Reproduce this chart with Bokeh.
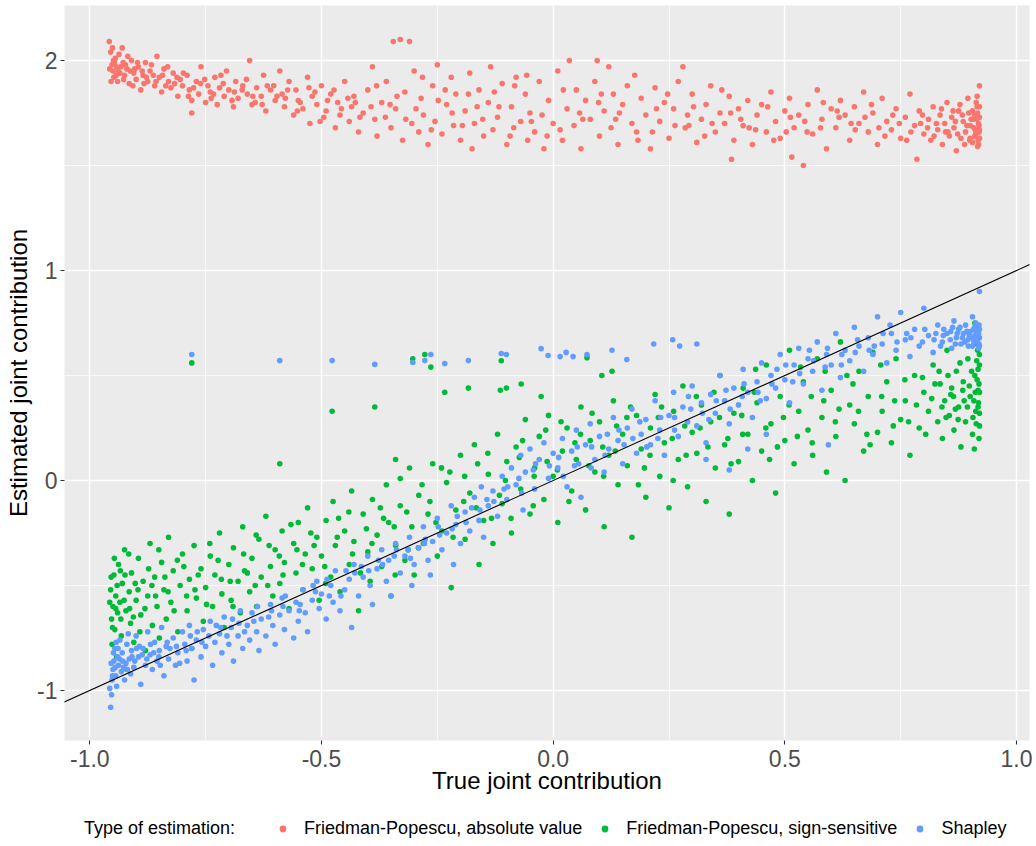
from bokeh.plotting import figure
from bokeh.layouts import column
from bokeh.models import Range1d, FixedTicker, Legend, LegendItem, Slope
from bokeh.embed import file_html
from bokeh.resources import INLINE

# ---------------- data ----------------
legend_title = "Type of estimation:"
series_names = ["Friedman-Popescu, absolute value", "Friedman-Popescu, sign-sensitive", "Shapley"]
series_colors = ["#F8766D", "#00BA38", "#619CFF"]

x_ticks = [-1, -0.5, 0, 0.5, 1]
x_tick_labels = ["-1.0", "-0.5", "0.0", "0.5", "1.0"]
x_minor = [-0.75, -0.25, 0.25, 0.75]
y_ticks = [-1, 0, 1, 2]
y_tick_labels = ["-1", "0", "1", "2"]
y_minor = [-0.5, 0.5, 1.5]

fp_abs_points = [
    (-0.958, 2.09), (-0.955, 2.04), (-0.952, 1.98), (-0.95, 1.95), (-0.948, 1.92), (-0.945, 2.01), (-0.942, 1.97),
    (-0.94, 1.90), (-0.935, 1.94), (-0.93, 2.06), (-0.928, 1.99), (-0.925, 1.93), (-0.92, 1.96), (-0.915, 1.89),
    (-0.91, 2.00), (-0.905, 1.94), (-0.90, 1.91), (-0.895, 1.97), (-0.89, 1.86), (-0.885, 1.93), (-0.88, 1.99),
    (-0.875, 1.90), (-0.87, 1.95), (-0.86, 1.88), (-0.855, 2.02), (-0.85, 1.92), (-0.845, 1.85), (-0.84, 1.96),
    (-0.83, 1.90), (-0.825, 1.87), (-0.82, 1.94), (-0.81, 1.83), (-0.805, 1.91), (-0.80, 1.88), (-0.78, 1.75),
    (-0.79, 1.93), (-0.785, 1.86), (-0.78, 1.81), (-0.77, 1.90), (-0.765, 1.84), (-0.76, 1.97), (-0.75, 1.80),
    (-0.745, 1.88), (-0.74, 1.85), (-0.73, 1.92), (-0.725, 1.79), (-0.72, 1.87), (-0.71, 1.83), (-0.705, 1.95),
    (-0.70, 1.86), (-0.69, 1.78), (-0.685, 1.90), (-0.68, 1.82), (-0.67, 1.88), (-0.66, 1.84), (-0.655, 2.00),
    (-0.65, 1.79), (-0.64, 1.87), (-0.63, 1.83), (-0.625, 1.93), (-0.62, 1.76), (-0.61, 1.86), (-0.60, 1.81),
    (-0.59, 1.95), (-0.585, 1.84), (-0.58, 1.78), (-0.57, 1.90), (-0.56, 1.74), (-0.555, 1.86), (-0.55, 1.81),
    (-0.54, 1.77), (-0.53, 1.92), (-0.525, 1.70), (-0.52, 1.83), (-0.51, 1.79), (-0.50, 1.88), (-0.495, 1.73),
    (-0.49, 1.76), (-0.48, 1.84), (-0.47, 1.68), (-0.465, 1.80), (-0.46, 1.74), (-0.45, 1.90), (-0.44, 1.71),
    (-0.435, 1.78), (-0.43, 1.83), (-0.42, 1.66), (-0.41, 1.75), (-0.40, 1.86),
    (-0.39, 1.97), (-0.385, 1.72), (-0.38, 1.64), (-0.37, 1.80), (-0.36, 1.90), (-0.35, 1.68), (-0.345, 2.09),
    (-0.34, 1.77), (-0.33, 2.10), (-0.325, 1.62), (-0.32, 1.85), (-0.31, 2.09), (-0.305, 1.70), (-0.30, 1.95),
    (-0.29, 1.66), (-0.285, 1.82), (-0.28, 1.74), (-0.27, 1.60), (-0.26, 1.88), (-0.255, 1.71), (-0.25, 1.98),
    (-0.24, 1.65), (-0.23, 1.79), (-0.22, 1.92), (-0.215, 1.69), (-0.21, 1.84), (-0.20, 1.62),
    (-0.19, 1.76), (-0.18, 1.94), (-0.175, 1.58), (-0.17, 1.70), (-0.16, 1.86), (-0.15, 1.64), (-0.14, 1.80),
    (-0.135, 1.97), (-0.13, 1.67), (-0.12, 1.73), (-0.11, 1.89), (-0.10, 1.60), (-0.09, 1.78), (-0.085, 1.68),
    (-0.08, 1.92), (-0.07, 1.71), (-0.06, 1.84), (-0.055, 1.62), (-0.05, 1.75), (-0.04, 1.66), (-0.03, 1.90),
    (-0.02, 1.58), (-0.01, 1.81), (0.00, 1.70),
    (0.01, 1.95), (0.02, 1.62), (0.03, 1.77), (0.035, 2.00), (0.045, 1.69), (0.05, 1.86), (0.06, 1.58),
    (0.07, 1.81), (0.08, 1.72), (0.09, 1.90), (0.095, 2.00), (0.10, 1.64), (0.11, 1.76), (0.12, 1.97),
    (0.125, 1.68), (0.13, 1.84), (0.14, 1.60), (0.15, 1.79), (0.16, 1.88), (0.17, 1.70), (0.18, 1.66),
    (0.19, 1.82), (0.20, 1.74),
    (0.21, 1.58), (0.22, 1.87), (0.23, 1.71), (0.24, 1.80), (0.25, 1.63), (0.26, 1.77), (0.27, 1.90),
    (0.28, 1.97), (0.285, 1.68), (0.29, 1.74), (0.30, 1.84), (0.31, 1.61), (0.32, 1.72), (0.33, 1.79),
    (0.34, 1.88), (0.35, 1.66), (0.36, 1.75), (0.37, 1.70), (0.38, 1.83), (0.385, 1.53), (0.39, 1.62),
    (0.40, 1.77),
    (0.41, 1.69), (0.42, 1.81), (0.43, 1.60), (0.44, 1.74), (0.45, 1.79), (0.46, 1.66), (0.47, 1.85),
    (0.48, 1.71), (0.49, 1.63), (0.50, 1.76), (0.51, 1.82), (0.515, 1.54), (0.52, 1.68), (0.53, 1.74),
    (0.54, 1.50), (0.55, 1.79), (0.56, 1.65), (0.57, 1.86), (0.58, 1.72), (0.59, 1.58), (0.60, 1.77),
    (0.61, 1.68), (0.62, 1.81), (0.63, 1.74), (0.64, 1.62), (0.65, 1.78), (0.66, 1.70), (0.67, 1.85),
    (0.68, 1.66), (0.69, 1.75), (0.70, 1.60), (0.71, 1.82), (0.72, 1.71), (0.73, 1.67), (0.74, 1.77),
    (0.75, 1.63), (0.76, 1.73), (0.77, 1.84), (0.78, 1.69), (0.785, 1.53), (0.79, 1.76), (0.80, 1.65),
    (0.81, 1.72), (0.815, 1.62), (0.82, 1.78), (0.83, 1.67), (0.835, 1.74), (0.84, 1.60), (0.845, 1.70),
    (0.85, 1.80), (0.855, 1.64), (0.86, 1.73), (0.865, 1.68), (0.87, 1.57), (0.875, 1.76), (0.88, 1.63),
    (0.885, 1.71), (0.89, 1.66), (0.895, 1.82), (0.90, 1.69), (0.905, 1.61), (0.91, 1.74), (0.912, 1.65),
    (0.915, 1.78), (0.917, 1.62), (0.918, 1.70), (0.92, 1.88), (0.92, 1.67), (0.92, 1.73), (0.918, 1.60),
    (0.915, 1.83), (0.91, 1.64), (0.905, 1.76), (0.90, 1.63),
    (-0.957, 1.96), (-0.954, 1.90), (-0.951, 2.06), (-0.947, 1.99), (-0.943, 1.93), (-0.937, 2.03),
    (-0.933, 1.97), (-0.927, 1.91), (-0.918, 2.02), (-0.913, 1.95), (-0.907, 1.88), (-0.897, 1.99),
    (-0.887, 1.95), (-0.878, 1.92), (-0.867, 1.98), (-0.857, 1.90), (-0.843, 1.93), (-0.832, 1.97),
    (-0.817, 1.89), (-0.798, 1.94), (-0.776, 1.87), (-0.752, 1.91), (-0.733, 1.84), (-0.712, 1.89),
    (-0.688, 1.85), (-0.662, 1.91), (-0.643, 1.80), (-0.617, 1.88), (-0.596, 1.83), (-0.573, 1.86),
    (-0.546, 1.80), (-0.514, 1.85), (-0.487, 1.81), (-0.457, 1.77), (-0.427, 1.80), (-0.393, 1.78),
    (-0.362, 1.73), (-0.337, 1.83), (-0.296, 1.77), (-0.263, 1.67), (-0.233, 1.86), (-0.196, 1.69),
    (-0.164, 1.78), (-0.127, 1.85), (-0.093, 1.64), (-0.057, 1.93), (-0.024, 1.74), (0.015, 1.67),
    (0.057, 1.75), (0.098, 1.80), (0.135, 1.72), (0.176, 1.93), (0.214, 1.66), (0.247, 1.84),
    (0.293, 1.69), (0.327, 1.64), (0.364, 1.86), (0.405, 1.72), (0.437, 1.67), (0.476, 1.62),
    (0.512, 1.73), (0.548, 1.66), (0.583, 1.80), (0.617, 1.73), (0.652, 1.67), (0.687, 1.79),
    (0.716, 1.64), (0.747, 1.70), (0.772, 1.66), (0.797, 1.74), (0.808, 1.68), (0.822, 1.64),
    (0.838, 1.77), (0.852, 1.66), (0.868, 1.71), (0.878, 1.79), (0.888, 1.60), (0.897, 1.75),
    (0.908, 1.68), (0.914, 1.72), (0.919, 1.66), (0.916, 1.59), (0.913, 1.80), (0.902, 1.72),
    (-0.949, 2.00), (-0.939, 1.95), (-0.923, 1.98), (-0.903, 1.96), (-0.883, 1.89), (-0.863, 1.93),
    (-0.836, 1.88), (-0.812, 1.92), (-0.787, 1.83), (-0.761, 1.89), (-0.738, 1.82), (-0.717, 1.93),
    (-0.693, 1.81), (-0.671, 1.86), (-0.648, 1.83), (-0.628, 1.79), (-0.603, 1.88), (-0.578, 1.82),
    (-0.552, 1.76), (-0.527, 1.87), (-0.503, 1.71), (-0.473, 1.86), (-0.443, 1.82), (-0.417, 1.73),
    (-0.381, 1.88), (-0.352, 1.79), (-0.318, 1.72), (-0.282, 1.92), (-0.248, 1.81), (-0.218, 1.75),
    (-0.183, 1.84), (-0.152, 1.72), (-0.117, 1.78), (-0.083, 1.88), (-0.047, 1.71), (-0.013, 1.64),
    (0.022, 1.86), (0.064, 1.72), (0.104, 1.84), (0.143, 1.75), (0.183, 1.62), (0.223, 1.77),
    (0.263, 1.69), (0.303, 1.78), (0.343, 1.70), (0.383, 1.75), (0.423, 1.68), (0.463, 1.78),
    (0.503, 1.66), (0.543, 1.71), (0.577, 1.68), (0.613, 1.76), (0.643, 1.70), (0.673, 1.73),
    (0.703, 1.68), (0.733, 1.74), (0.763, 1.62), (0.793, 1.70), (0.827, 1.70), (0.847, 1.66),
    (0.863, 1.76), (0.873, 1.65), (0.883, 1.74), (0.893, 1.69), (0.899, 1.62), (0.906, 1.72),
    (0.911, 1.67), (0.916, 1.75), (0.919, 1.69), (0.92, 1.63), (0.92, 1.78), (0.917, 1.66),
]

fp_sign_points = [
    (-0.955, -0.52), (-0.953, -0.66), (-0.952, -0.78), (-0.95, -0.60), (-0.948, -0.45), (-0.946, -0.71),
    (-0.944, -0.55), (-0.942, -0.84), (-0.94, -0.63), (-0.938, -0.40), (-0.935, -0.58), (-0.932, -0.74),
    (-0.93, -0.49), (-0.925, -0.33), (-0.922, -0.62), (-0.92, -0.90), (-0.915, -0.53), (-0.912, -0.68),
    (-0.91, -0.44), (-0.905, -0.77), (-0.90, -0.57), (-0.895, -0.37), (-0.89, -0.64), (-0.885, -0.48),
    (-0.88, -0.81), (-0.875, -0.55), (-0.87, -0.30), (-0.865, -0.69), (-0.86, -0.46), (-0.855, -0.60),
    (-0.85, -0.75), (-0.845, -0.39), (-0.84, -0.52), (-0.835, -0.66), (-0.83, -0.27), (-0.825, -0.58),
    (-0.82, -0.43), (-0.81, -0.72), (-0.805, -0.50), (-0.80, -0.35), (-0.79, -0.62), (-0.785, -0.47),
    (-0.78, -0.80), (-0.775, -0.31), (-0.77, -0.56), (-0.76, -0.42), (-0.755, -0.67), (-0.75, -0.51),
    (-0.74, -0.36), (-0.735, -0.60), (-0.73, -0.45), (-0.72, -0.25), (-0.715, -0.54), (-0.71, -0.70),
    (-0.70, -0.40), (-0.695, -0.57), (-0.69, -0.32), (-0.68, -0.48), (-0.675, -0.63), (-0.67, -0.22),
    (-0.66, -0.44), (-0.655, -0.53), (-0.65, -0.37), (-0.64, -0.60), (-0.635, -0.28), (-0.63, -0.46),
    (-0.62, -0.17), (-0.61, -0.41), (-0.605, -0.55), (-0.60, -0.33), (-0.59, -0.49), (-0.585, -0.24),
    (-0.58, -0.39), (-0.57, -0.61), (-0.56, -0.30), (-0.555, -0.44), (-0.55, -0.20), (-0.54, -0.52),
    (-0.535, -0.35), (-0.53, -0.13), (-0.52, -0.42), (-0.51, -0.27), (-0.505, -0.57), (-0.50, -0.36),
    (-0.49, -0.19), (-0.48, -0.46), (-0.475, -0.10), (-0.47, -0.31), (-0.46, -0.53), (-0.45, -0.24),
    (-0.44, -0.40), (-0.435, -0.05), (-0.43, -0.29), (-0.42, -0.62), (-0.41, -0.16), (-0.40, -0.34),
    (-0.395, -0.48), (-0.39, -0.09), (-0.38, -0.26), (-0.37, -0.41), (-0.36, -0.02), (-0.355, -0.20),
    (-0.35, -0.55), (-0.34, -0.31), (-0.33, -0.12), (-0.32, -0.38), (-0.31, 0.06), (-0.305, -0.22),
    (-0.30, -0.45), (-0.29, -0.07), (-0.28, -0.30), (-0.27, -0.16), (-0.26, 0.08), (-0.25, -0.36),
    (-0.24, -0.24), (-0.23, -0.01), (-0.22, -0.51), (-0.21, -0.14), (-0.20, 0.12), (-0.19, -0.28),
    (-0.18, -0.06), (-0.17, 0.17), (-0.16, -0.40), (-0.15, -0.19), (-0.14, 0.03), (-0.13, -0.30),
    (-0.12, 0.22), (-0.11, -0.11), (-0.10, 0.09), (-0.09, -0.25), (-0.08, 0.16), (-0.07, -0.04),
    (-0.06, 0.29), (-0.05, -0.16), (-0.04, 0.06), (-0.03, 0.21), (-0.02, -0.09), (-0.01, 0.31),
    (0.00, 0.02), (0.01, -0.20), (0.02, 0.14), (0.03, 0.25), (0.04, -0.05), (0.05, 0.10), (0.06, 0.35),
    (0.07, -0.14), (0.08, 0.19), (0.09, 0.04), (0.10, 0.28), (0.11, -0.22), (0.12, 0.12), (0.13, 0.38),
    (0.14, -0.02), (0.15, 0.22), (0.16, 0.07), (0.17, -0.27), (0.18, 0.31), (0.19, 0.15), (0.20, -0.08),
    (0.21, 0.25), (0.22, 0.41), (0.23, 0.02), (0.24, 0.18), (0.25, -0.13), (0.26, 0.33), (0.27, 0.10),
    (0.28, 0.45), (0.29, -0.03), (0.30, 0.23), (0.31, 0.13), (0.32, 0.36), (0.33, -0.10), (0.34, 0.28),
    (0.35, 0.06), (0.36, 0.50), (0.37, 0.17), (0.38, -0.16), (0.39, 0.32), (0.40, 0.09), (0.41, 0.44),
    (0.42, 0.22), (0.43, 0.00), (0.44, 0.37), (0.45, 0.14), (0.46, 0.55), (0.47, 0.27), (0.48, -0.06),
    (0.49, 0.40), (0.50, 0.19), (0.51, 0.62), (0.52, 0.08), (0.53, 0.33), (0.54, 0.47), (0.55, 0.24),
    (0.56, 0.12), (0.57, 0.58), (0.58, 0.30), (0.59, 0.04), (0.60, 0.43), (0.61, 0.21), (0.62, 0.66),
    (0.63, 0.00), (0.64, 0.36), (0.65, 0.27), (0.66, 0.52), (0.67, 0.14), (0.68, 0.40), (0.69, 0.61),
    (0.70, 0.23), (0.71, 0.33), (0.72, 0.47), (0.73, 0.18), (0.74, 0.58), (0.75, 0.29), (0.76, 0.38),
    (0.77, 0.12), (0.78, 0.50), (0.79, 0.25), (0.80, 0.42), (0.81, 0.33), (0.82, 0.55), (0.83, 0.28),
    (0.835, 0.46), (0.84, 0.20), (0.845, 0.38), (0.85, 0.62), (0.855, 0.31), (0.86, 0.44), (0.865, 0.24),
    (0.87, 0.52), (0.875, 0.35), (0.88, 0.16), (0.885, 0.47), (0.89, 0.28), (0.895, 0.58), (0.90, 0.40),
    (0.905, 0.22), (0.91, 0.50), (0.912, 0.33), (0.915, 0.65), (0.917, 0.43), (0.92, 0.26), (0.92, 0.55),
    (0.918, 0.37), (0.915, 0.48), (0.91, 0.75), (0.92, 0.60),
    (-0.957, -0.58), (-0.951, -0.70), (-0.947, -0.37), (-0.941, -0.50), (-0.933, -0.66), (-0.924, -0.45),
    (-0.914, -0.61), (-0.902, -0.49), (-0.892, -0.72), (-0.873, -0.42), (-0.858, -0.55), (-0.838, -0.46),
    (-0.818, -0.62), (-0.797, -0.41), (-0.773, -0.52), (-0.748, -0.59), (-0.723, -0.38), (-0.697, -0.48),
    (-0.668, -0.35), (-0.643, -0.50), (-0.613, -0.31), (-0.583, -0.45), (-0.553, -0.33), (-0.523, -0.25),
    (-0.493, -0.41), (-0.463, -0.18), (-0.433, -0.35), (-0.403, -0.23), (-0.373, -0.13), (-0.343, -0.22),
    (-0.313, -0.33), (-0.283, -0.02), (-0.253, -0.20), (-0.223, 0.04), (-0.193, -0.10), (-0.163, 0.08),
    (-0.133, -0.18), (-0.103, 0.00), (-0.073, 0.11), (-0.043, -0.12), (-0.013, 0.09), (0.017, 0.28),
    (0.047, 0.18), (0.077, 0.07), (0.107, 0.16), (0.137, 0.26), (0.167, 0.35), (0.197, 0.06),
    (0.227, 0.30), (0.257, 0.20), (0.287, 0.12), (0.317, 0.25), (0.347, 0.42), (0.377, 0.20),
    (0.407, 0.31), (0.437, 0.53), (0.467, 0.10), (0.497, 0.30), (0.527, 0.21), (0.557, 0.40),
    (0.587, 0.52), (0.617, 0.34), (0.647, 0.46), (0.677, 0.22), (0.707, 0.55), (0.737, 0.38),
    (0.767, 0.28), (0.797, 0.49), (0.817, 0.39), (0.833, 0.52), (0.848, 0.30), (0.858, 0.41),
    (0.868, 0.34), (0.878, 0.56), (0.887, 0.38), (0.898, 0.45), (0.906, 0.30), (0.911, 0.42),
    (0.914, 0.57), (0.917, 0.35), (0.919, 0.46), (0.919, 0.20), (0.916, 0.62), (0.909, 0.15),
    (-0.954, -0.46), (-0.944, -0.61), (-0.934, -0.43), (-0.926, -0.57), (-0.916, -0.35), (-0.906, -0.65),
    (-0.896, -0.52), (-0.881, -0.61), (-0.866, -0.50), (-0.851, -0.33), (-0.831, -0.53), (-0.811, -0.38),
    (-0.791, -0.55), (-0.766, -0.45), (-0.741, -0.30), (-0.716, -0.47), (-0.691, -0.60), (-0.666, -0.43),
    (-0.641, -0.26), (-0.616, -0.50), (-0.591, -0.36), (-0.566, -0.21), (-0.541, -0.40), (-0.516, -0.31),
    (-0.491, -0.49), (-0.466, -0.27), (-0.441, -0.15), (-0.416, -0.44), (-0.391, -0.30), (-0.366, -0.18),
    (-0.341, -0.45), (-0.316, -0.15), (-0.291, -0.32), (-0.266, -0.10), (-0.241, 0.06), (-0.216, -0.27),
    (-0.191, 0.02), (-0.166, -0.13), (-0.141, 0.13), (-0.116, -0.07), (-0.091, -0.18), (-0.066, 0.19),
    (-0.041, 0.02), (-0.016, 0.24), (0.009, 0.05), (0.034, -0.10), (0.059, 0.22), (0.084, 0.32),
    (0.109, 0.02), (0.134, 0.14), (0.159, 0.30), (0.184, -0.02), (0.209, 0.12), (0.234, 0.35),
    (0.259, 0.00), (0.284, 0.26), (0.309, 0.40), (0.334, 0.16), (0.359, 0.30), (0.384, 0.08),
    (0.409, 0.22), (0.434, 0.42), (0.459, 0.25), (0.484, 0.16), (0.509, 0.36), (0.534, 0.54),
    (0.559, 0.18), (0.584, 0.38), (0.609, 0.28), (0.634, 0.50), (0.659, 0.33), (0.684, 0.17),
    (0.709, 0.40), (0.734, 0.26), (0.759, 0.48), (0.784, 0.36), (0.804, 0.22), (0.824, 0.46),
    (0.839, 0.35), (0.852, 0.50), (0.864, 0.40), (0.874, 0.29), (0.884, 0.43), (0.894, 0.35),
    (0.903, 0.52), (0.908, 0.38), (0.913, 0.27), (0.917, 0.53), (0.92, 0.42), (0.92, 0.32),
    # isolated high points
    (-0.78, 0.56), (-0.59, 0.08), (-0.477, 0.33), (-0.385, 0.35), (-0.303, 0.58), (-0.277, 0.60),
    (-0.264, 0.54), (-0.234, 0.42), (-0.183, 0.44), (-0.114, 0.43), (-0.101, 0.44), (-0.112, 0.57),
    (0.073, 0.585), (-0.069, 0.46), (-0.026, 0.40), (0.105, 0.50), (0.127, 0.52), (-0.34, 0.10),
    (-0.33, 0.01),
]

shapley_points = [
    (-0.955, -1.08), (-0.953, -1.02), (-0.952, -0.95), (-0.95, -0.90), (-0.948, -0.86), (-0.946, -0.80),
    (-0.944, -0.93), (-0.942, -0.98), (-0.94, -0.84), (-0.938, -0.88), (-0.935, -0.76), (-0.932, -0.91),
    (-0.93, -0.82), (-0.925, -0.95), (-0.922, -0.87), (-0.92, -0.78), (-0.915, -0.85), (-0.912, -0.92),
    (-0.91, -0.81), (-0.905, -0.89), (-0.90, -0.74), (-0.895, -0.84), (-0.89, -0.97), (-0.885, -0.80),
    (-0.88, -0.88), (-0.875, -0.72), (-0.87, -0.83), (-0.865, -0.90), (-0.86, -0.77), (-0.855, -0.86),
    (-0.85, -0.81), (-0.845, -0.70), (-0.84, -0.93), (-0.835, -0.79), (-0.83, -0.85), (-0.82, -0.75),
    (-0.815, -0.88), (-0.81, -0.82), (-0.80, -0.72), (-0.795, -0.78), (-0.79, -0.86), (-0.785, -0.69),
    (-0.78, -0.80), (-0.775, -0.95), (-0.77, -0.76), (-0.76, -0.84), (-0.755, -0.71), (-0.75, -0.79),
    (-0.74, -0.67), (-0.735, -0.88), (-0.73, -0.77), (-0.72, -0.73), (-0.715, -0.82), (-0.71, -0.65),
    (-0.70, -0.78), (-0.695, -0.70), (-0.69, -0.86), (-0.68, -0.74), (-0.675, -0.62), (-0.67, -0.80),
    (-0.66, -0.69), (-0.655, -0.76), (-0.65, -0.63), (-0.64, -0.72), (-0.635, -0.81), (-0.63, -0.66),
    (-0.62, -0.74), (-0.61, -0.59), (-0.605, -0.69), (-0.60, -0.78), (-0.59, -0.64), (-0.585, -0.56),
    (-0.58, -0.71), (-0.57, -0.62), (-0.56, -0.75), (-0.555, -0.58), (-0.55, -0.67), (-0.54, -0.52),
    (-0.535, -0.63), (-0.53, -0.72), (-0.52, -0.57), (-0.51, -0.48), (-0.505, -0.61), (-0.50, -0.54),
    (-0.49, -0.66), (-0.48, -0.50), (-0.475, -0.58), (-0.47, -0.43), (-0.46, -0.62), (-0.45, -0.52),
    (-0.44, -0.47), (-0.435, -0.70), (-0.43, -0.40), (-0.42, -0.55), (-0.41, -0.46), (-0.40, -0.36),
    (-0.395, -0.50), (-0.39, -0.59), (-0.38, -0.42), (-0.37, -0.33), (-0.36, -0.48), (-0.355, -0.38),
    (-0.35, -0.55), (-0.34, -0.30), (-0.33, -0.44), (-0.32, -0.36), (-0.31, -0.27), (-0.305, -0.50),
    (-0.30, -0.40), (-0.29, -0.32), (-0.28, -0.22), (-0.27, -0.38), (-0.265, -0.45), (-0.26, -0.29),
    (-0.25, -0.18), (-0.24, -0.33), (-0.23, -0.25), (-0.22, -0.12), (-0.215, -0.40), (-0.21, -0.21),
    (-0.20, -0.30), (-0.19, -0.15), (-0.18, -0.24), (-0.17, -0.08), (-0.16, -0.19), (-0.155, -0.03),
    (-0.15, -0.27), (-0.14, -0.12), (-0.13, -0.05), (-0.12, -0.17), (-0.11, 0.02), (-0.10, -0.09),
    (-0.09, 0.06), (-0.08, -0.02), (-0.07, 0.12), (-0.065, -0.14), (-0.06, 0.04), (-0.05, 0.15),
    (-0.04, -0.04), (-0.03, 0.10), (-0.02, 0.18), (-0.01, 0.01), (0.00, 0.13), (0.01, 0.06), (0.02, 0.20),
    (0.03, -0.03), (0.04, 0.14), (0.05, 0.24), (0.055, 0.08), (0.06, -0.08), (0.07, 0.17), (0.08, 0.27),
    (0.09, 0.10), (0.10, 0.21), (0.11, 0.04), (0.12, 0.15), (0.13, 0.30), (0.14, 0.19), (0.15, 0.08),
    (0.16, 0.25), (0.17, 0.34), (0.18, 0.13), (0.19, 0.22), (0.20, 0.29), (0.21, 0.17), (0.22, 0.38),
    (0.23, 0.24), (0.24, 0.12), (0.25, 0.31), (0.26, 0.42), (0.27, 0.21), (0.28, 0.35), (0.29, 0.28),
    (0.30, 0.45), (0.31, 0.26), (0.32, 0.37), (0.33, 0.18), (0.34, 0.41), (0.35, 0.32), (0.36, 0.50),
    (0.37, 0.38), (0.38, 0.27), (0.39, 0.44), (0.40, 0.36), (0.41, 0.53), (0.42, 0.42), (0.43, 0.30),
    (0.44, 0.47), (0.45, 0.56), (0.46, 0.39), (0.47, 0.50), (0.48, 0.44), (0.49, 0.60), (0.50, 0.48),
    (0.51, 0.37), (0.52, 0.55), (0.53, 0.63), (0.54, 0.46), (0.55, 0.58), (0.56, 0.52), (0.57, 0.66),
    (0.58, 0.43), (0.59, 0.60), (0.60, 0.55), (0.61, 0.70), (0.62, 0.49), (0.63, 0.62), (0.64, 0.57),
    (0.65, 0.73), (0.66, 0.64), (0.67, 0.52), (0.68, 0.68), (0.69, 0.60), (0.70, 0.78), (0.71, 0.65),
    (0.72, 0.56), (0.73, 0.70), (0.74, 0.62), (0.75, 0.80), (0.76, 0.67), (0.77, 0.59), (0.78, 0.72),
    (0.79, 0.64), (0.80, 0.82), (0.81, 0.69), (0.82, 0.61), (0.83, 0.74), (0.84, 0.66), (0.85, 0.70),
    (0.86, 0.63), (0.865, 0.76), (0.87, 0.68), (0.875, 0.72), (0.88, 0.65), (0.885, 0.70), (0.89, 0.74),
    (0.895, 0.67), (0.90, 0.71), (0.905, 0.64), (0.91, 0.69), (0.912, 0.75), (0.915, 0.66), (0.917, 0.72),
    (0.92, 0.68), (0.92, 0.90), (0.918, 0.63), (0.915, 0.70), (0.91, 0.73), (0.905, 0.78),
    (0.33, 0.10), (0.38, 0.05), (0.42, 0.15), (0.46, 0.22), (0.594, 0.17),
    (-0.957, -0.99), (-0.954, -0.87), (-0.949, -0.82), (-0.943, -0.77), (-0.936, -0.85), (-0.927, -0.89),
    (-0.917, -0.73), (-0.903, -0.86), (-0.893, -0.79), (-0.877, -0.85), (-0.862, -0.82), (-0.848, -0.88),
    (-0.827, -0.80), (-0.806, -0.87), (-0.783, -0.74), (-0.758, -0.77), (-0.727, -0.69), (-0.704, -0.74),
    (-0.678, -0.68), (-0.646, -0.67), (-0.614, -0.65), (-0.583, -0.60), (-0.546, -0.59), (-0.513, -0.53),
    (-0.483, -0.55), (-0.447, -0.43), (-0.414, -0.41), (-0.377, -0.38), (-0.343, -0.36), (-0.313, -0.33),
    (-0.276, -0.28), (-0.245, -0.26), (-0.207, -0.17), (-0.176, -0.13), (-0.143, -0.09), (-0.106, -0.04),
    (-0.074, 0.01), (-0.043, 0.05), (0.012, 0.11), (0.046, 0.07), (0.083, 0.16), (0.117, 0.22),
    (0.153, 0.17), (0.187, 0.28), (0.226, 0.20), (0.262, 0.30), (0.297, 0.34), (0.336, 0.29),
    (0.373, 0.43), (0.408, 0.40), (0.447, 0.38), (0.483, 0.53), (0.517, 0.47), (0.553, 0.62),
    (0.587, 0.54), (0.623, 0.60), (0.657, 0.67), (0.693, 0.64), (0.727, 0.74), (0.763, 0.70),
    (0.797, 0.66), (0.826, 0.70), (0.843, 0.72), (0.857, 0.67), (0.872, 0.70), (0.883, 0.68),
    (0.893, 0.71), (0.903, 0.68), (0.908, 0.66), (0.913, 0.71), (0.916, 0.68), (0.919, 0.74),
    (0.919, 0.65), (0.896, 0.64), (0.862, 0.73), (0.836, 0.64),
    (-0.951, -0.93), (-0.945, -0.89), (-0.939, -0.80), (-0.929, -0.86), (-0.919, -0.90), (-0.909, -0.84),
    (-0.899, -0.80), (-0.887, -0.83), (-0.869, -0.78), (-0.851, -0.84), (-0.833, -0.77), (-0.813, -0.79),
    (-0.792, -0.81), (-0.768, -0.72), (-0.743, -0.74), (-0.718, -0.70), (-0.692, -0.66), (-0.666, -0.72),
    (-0.638, -0.60), (-0.608, -0.62), (-0.578, -0.55), (-0.548, -0.62), (-0.518, -0.50), (-0.488, -0.47),
    (-0.458, -0.55), (-0.428, -0.44), (-0.398, -0.43), (-0.368, -0.40), (-0.338, -0.33), (-0.308, -0.37),
    (-0.278, -0.30), (-0.248, -0.22), (-0.218, -0.23), (-0.188, -0.20), (-0.158, -0.14), (-0.128, -0.10),
    (-0.098, -0.03), (-0.068, -0.06), (-0.038, 0.08), (-0.008, 0.07), (0.022, 0.02), (0.052, 0.16),
    (0.082, 0.06), (0.112, 0.12), (0.142, 0.24), (0.172, 0.20), (0.202, 0.16), (0.232, 0.30),
    (0.262, 0.24), (0.292, 0.40), (0.322, 0.32), (0.352, 0.38), (0.382, 0.34), (0.412, 0.46),
    (0.442, 0.42), (0.472, 0.46), (0.502, 0.55), (0.532, 0.51), (0.562, 0.57), (0.592, 0.63),
    (0.622, 0.55), (0.652, 0.61), (0.682, 0.62), (0.712, 0.70), (0.742, 0.66), (0.772, 0.68),
    (0.802, 0.72), (0.822, 0.67), (0.842, 0.69), (0.858, 0.71), (0.868, 0.65), (0.878, 0.73),
    (0.888, 0.66), (0.898, 0.69), (0.907, 0.72), (0.914, 0.67), (0.918, 0.70), (0.92, 0.72), (0.92, 0.64),
    # isolated high points
    (-0.78, 0.60), (-0.59, 0.571), (-0.477, 0.571), (-0.385, 0.553), (-0.303, 0.562), (-0.277, 0.571),
    (-0.264, 0.60), (-0.234, 0.557), (-0.183, 0.571), (-0.112, 0.605), (-0.101, 0.60), (-0.026, 0.628),
    (-0.011, 0.595), (0.015, 0.59), (0.028, 0.61), (0.043, 0.59), (0.073, 0.60), (0.127, 0.62),
    (0.159, 0.576), (0.217, 0.65), (0.258, 0.67), (0.273, 0.64), (0.31, 0.65),
]

abline_slope = 1.0
abline_intercept = 0.0

all_series = [fp_abs_points, fp_sign_points, shapley_points]

# ---------------- main figure ----------------
FONT = "Liberation Sans"
p = figure(width=1036, height=800, output_backend="svg", toolbar_location=None,
           x_range=Range1d(-1.0546, 1.028), y_range=Range1d(-1.238, 2.262),
           min_border_left=64, min_border_right=7, min_border_top=5, min_border_bottom=60)
p.background_fill_color = "#EBEBEB"
p.border_fill_color = "white"
p.outline_line_color = None

xt = FixedTicker(ticks=x_ticks, minor_ticks=x_minor)
yt = FixedTicker(ticks=y_ticks, minor_ticks=y_minor)
p.xaxis.ticker = xt
p.yaxis.ticker = yt
p.xgrid.ticker = xt
p.ygrid.ticker = yt
p.xaxis.major_label_overrides = dict(zip(x_ticks, x_tick_labels))
p.yaxis.major_label_overrides = dict(zip(y_ticks, y_tick_labels))

for g in (p.xgrid, p.ygrid):
    g.grid_line_color = "white"
    g.grid_line_width = 1.4
    g.minor_grid_line_color = "white"
    g.minor_grid_line_width = 0.7

for ax in (p.xaxis, p.yaxis):
    ax.axis_line_color = None
    ax.minor_tick_line_color = None
    ax.major_tick_line_color = "#333333"
    ax.major_tick_line_width = 1.1
    ax.major_tick_in = 0
    ax.major_tick_out = 4
    ax.major_label_text_font = FONT
    ax.major_label_text_font_size = "23px"
    ax.major_label_text_color = "#4D4D4D"
    ax.axis_label_text_font = FONT
    ax.axis_label_text_font_size = "24px"
    ax.axis_label_text_font_style = "normal"
    ax.axis_label_text_color = "black"

p.xaxis.axis_label = "True joint contribution"
p.yaxis.axis_label = "Estimated joint contribution"
p.xaxis.major_label_standoff = 5
p.xaxis.axis_label_standoff = -3
p.yaxis.major_label_standoff = 3
p.yaxis.axis_label_standoff = 2

for pts, col in zip(all_series, series_colors):
    xs = [q[0] for q in pts]
    ys = [q[1] for q in pts]
    p.scatter(xs, ys, size=5.6, fill_color=col, line_color=None)

p.add_layout(Slope(gradient=abline_slope, y_intercept=abline_intercept,
                   line_color="black", line_width=1.1))

# ---------------- legend strip (its proxies lie outside its visible range) ----------------
lg = figure(width=1036, height=46, output_backend="svg", toolbar_location=None,
            x_range=Range1d(10, 11), y_range=Range1d(10, 11),
            x_axis_type=None, y_axis_type=None,
            min_border_left=0, min_border_right=0, min_border_top=0, min_border_bottom=0)
lg.outline_line_color = None
lg.background_fill_color = "white"
lg.border_fill_color = "white"

title_dummy = lg.scatter(x=[all_series[0][0][0]], y=[all_series[0][0][1]], fill_alpha=0, line_alpha=0)
proxies = [lg.scatter(x=[pts[0][0]], y=[pts[0][1]], size=5.6, fill_color=c, line_color=None)
           for pts, c in zip(all_series, series_colors)]

items = [LegendItem(label=legend_title + "\u00a0" * 5, renderers=[title_dummy])]
items += [LegendItem(label=n, renderers=[r]) for n, r in zip(series_names, proxies)]

legend = Legend(
    items=items, orientation="horizontal", location=(-10, 7),
    glyph_width=17, glyph_height=17, label_standoff=13, spacing=14,
    padding=0, margin=0, border_line_color=None, background_fill_alpha=0,
    label_text_font=FONT, label_text_font_size="18px", label_text_color="black",
)
lg.add_layout(legend)

layout = column(p, lg, spacing=0)
open("out.html", "w").write(file_html(layout, INLINE))
